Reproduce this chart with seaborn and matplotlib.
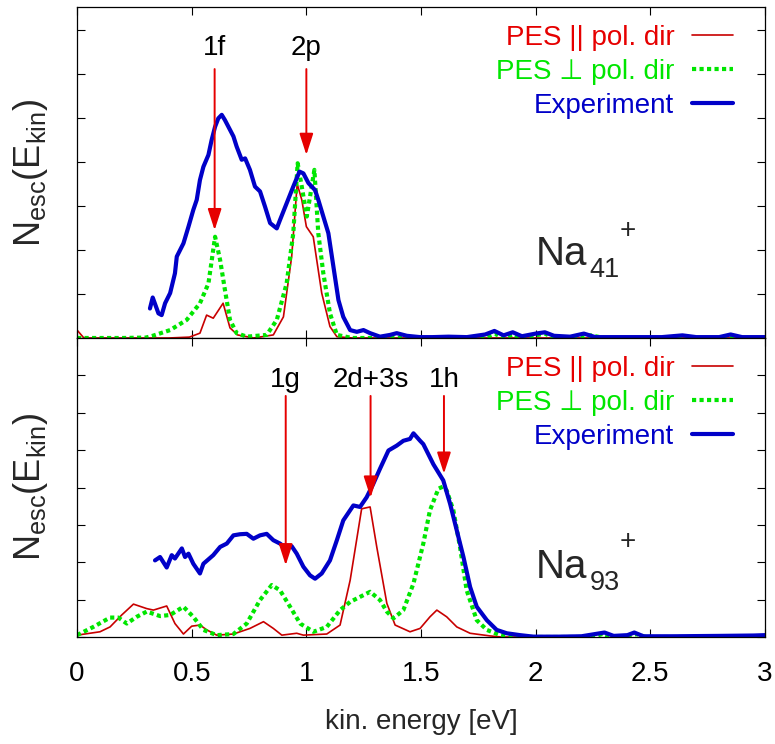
import matplotlib
matplotlib.use("Agg")
import matplotlib.pyplot as plt
import seaborn as sns

# Valores (unidades = separación de marcas del eje y)
# --- Na41+ (panel superior) ---
top_par_x = [0.0, 0.03, 0.2, 0.4, 0.49, 0.536, 0.565, 0.594, 0.637, 0.667, 0.70, 0.77, 0.856, 0.9,
             0.936, 0.96, 0.98, 1.0, 1.03, 1.067, 1.103, 1.133, 1.2, 1.5, 2.0, 2.5, 3.0]
top_par_y = [0.18, 0.0, 0.0, 0.0, 0.02, 0.11, 0.52, 0.45, 0.79, 0.23, 0.07, 0.0, 0.07, 0.48,
             1.85, 3.50, 3.14, 2.53, 2.30, 1.02, 0.26, 0.03, 0.0, 0.0, 0.0, 0.0, 0.0]

top_perp_x = [0.0, 0.2, 0.3, 0.33, 0.406, 0.478, 0.536, 0.573, 0.602, 0.624, 0.645, 0.667, 0.696,
              0.74, 0.827, 0.871, 0.914, 0.943, 0.962, 0.98, 1.002, 1.016, 1.035, 1.052, 1.074,
              1.103, 1.133, 1.2, 1.78, 1.82, 1.86, 1.9, 1.94, 2.0, 2.04, 2.08, 2.2, 2.24, 2.3, 3.0]
top_perp_y = [0.0, 0.0, 0.01, 0.05, 0.18, 0.41, 0.79, 1.24, 2.30, 1.77, 1.09, 0.41, 0.11,
              0.03, 0.07, 0.41, 1.24, 2.38, 3.97, 3.44, 2.76, 3.21, 3.82, 2.38, 1.47,
              0.56, 0.07, 0.0, 0.0, 0.1, 0.0, 0.08, 0.0, 0.06, 0.1, 0.0, 0.0, 0.06, 0.0, 0.0]

top_exp_x = [0.318, 0.330, 0.355, 0.369, 0.384, 0.406, 0.427, 0.435, 0.464, 0.486, 0.507, 0.522,
             0.536, 0.551, 0.573, 0.587, 0.602, 0.616, 0.631, 0.645, 0.667, 0.682, 0.696, 0.718,
             0.733, 0.754, 0.776, 0.798, 0.820, 0.842, 0.871, 0.885, 0.914, 0.943, 0.970, 0.987,
             1.009, 1.038, 1.052, 1.074, 1.096, 1.118, 1.140, 1.161, 1.191, 1.220, 1.249, 1.278,
             1.321, 1.365, 1.394, 1.438, 1.496, 1.55, 1.62, 1.70, 1.78, 1.82, 1.86, 1.90, 1.94,
             2.0, 2.04, 2.08, 2.15, 2.21, 2.26, 2.40, 2.55, 2.64, 2.70, 2.80, 2.85, 2.90, 3.0]
top_exp_y = [0.67, 0.92, 0.56, 0.52, 0.79, 1.02, 1.47, 1.85, 2.15, 2.53, 2.91, 3.14,
             3.59, 3.89, 4.16, 4.50, 4.80, 4.99, 5.07, 4.95, 4.73, 4.58, 4.35, 4.05,
             4.08, 3.82, 3.44, 3.33, 2.98, 2.61, 2.49, 2.68, 3.06, 3.44, 3.78, 3.74,
             3.52, 3.36, 3.14, 2.76, 2.38, 1.62, 0.86, 0.48, 0.18, 0.14, 0.18, 0.11,
             0.03, 0.07, 0.11, 0.05, 0.02, 0.02, 0.03, 0.02, 0.08, 0.16, 0.06, 0.13, 0.04,
             0.10, 0.13, 0.05, 0.03, 0.10, 0.02, 0.02, 0.02, 0.06, 0.02, 0.02, 0.08, 0.02, 0.02]

# --- Na93+ (panel inferior) ---
bot_par_x = [0.0, 0.1, 0.144, 0.195, 0.246, 0.304, 0.333, 0.391, 0.427, 0.464, 0.5, 0.536, 0.566,
             0.609, 0.682, 0.754, 0.813, 0.856, 0.893, 0.958, 0.987, 1.089, 1.147, 1.191, 1.241,
             1.278, 1.307, 1.351, 1.387, 1.452, 1.496, 1.539, 1.569, 1.612, 1.656, 1.714, 1.8,
             1.85, 2.0]
bot_par_y = [0.05, 0.14, 0.27, 0.59, 0.88, 0.76, 0.72, 0.83, 0.36, 0.08, 0.29, 0.32, 0.19,
             0.05, 0.08, 0.23, 0.41, 0.23, 0.05, 0.10, 0.05, 0.08, 0.32, 1.52, 3.43,
             3.48, 2.41, 0.90, 0.32, 0.14, 0.23, 0.54, 0.72, 0.54, 0.27, 0.10, 0.03,
             0.0, 0.0]

bot_perp_x = [0.0, 0.071, 0.144, 0.18, 0.217, 0.26, 0.304, 0.362, 0.406, 0.464, 0.507, 0.551,
              0.609, 0.682, 0.74, 0.798, 0.849, 0.885, 0.929, 0.973, 1.031, 1.089, 1.147, 1.191,
              1.278, 1.321, 1.351, 1.380, 1.423, 1.467, 1.510, 1.539, 1.576, 1.595, 1.612,
              1.641, 1.670, 1.699, 1.743, 1.787, 1.845, 1.9, 2.25, 2.29, 2.33, 2.40, 2.44,
              2.48, 3.0]
bot_perp_y = [0.05, 0.27, 0.52, 0.52, 0.36, 0.54, 0.68, 0.56, 0.59, 0.81, 0.54, 0.19,
              0.05, 0.08, 0.36, 0.99, 1.39, 1.25, 0.81, 0.36, 0.14, 0.27, 0.72, 0.94,
              1.21, 0.99, 0.68, 0.50, 0.72, 1.43, 2.50, 3.39, 3.97, 4.02, 3.92,
              3.39, 2.41, 1.25, 0.45, 0.19, 0.05, 0.0, 0.0, 0.08, 0.0, 0.0, 0.08,
              0.0, 0.0]

bot_exp_x = [0.340, 0.362, 0.391, 0.413, 0.427, 0.457, 0.471, 0.486, 0.507, 0.536, 0.551, 0.594,
             0.624, 0.653, 0.682, 0.711, 0.740, 0.769, 0.798, 0.827, 0.856, 0.885, 0.914, 0.936,
             0.958, 0.987, 1.016, 1.038, 1.067, 1.103, 1.133, 1.161, 1.205, 1.234, 1.263, 1.292,
             1.321, 1.358, 1.394, 1.423, 1.452, 1.467, 1.496, 1.510, 1.554, 1.597, 1.627, 1.656,
             1.685, 1.714, 1.743, 1.787, 1.830, 1.874, 1.932, 1.990, 2.1, 2.2, 2.26, 2.30, 2.34,
             2.40, 2.43, 2.47, 2.6, 2.8, 2.95, 3.0]
bot_exp_y = [2.05, 2.14, 1.86, 2.19, 2.10, 2.37, 2.14, 2.23, 1.96, 1.70, 1.96, 2.19,
             2.41, 2.50, 2.72, 2.75, 2.76, 2.63, 2.72, 2.76, 2.59, 2.50, 2.37, 2.43,
             2.23, 1.88, 1.65, 1.56, 1.70, 2.05, 2.59, 3.12, 3.52, 3.48, 3.74, 4.10,
             4.50, 4.99, 5.12, 5.25, 5.30, 5.45, 5.25, 5.16, 4.62, 4.19, 3.56, 2.85,
             2.14, 1.34, 0.81, 0.45, 0.19, 0.10, 0.05, 0.01, 0.01, 0.02, 0.08, 0.12, 0.03,
             0.05, 0.12, 0.02, 0.02, 0.03, 0.04, 0.05]

# Etiquetas de flechas: (texto, x, punta)
top_peaks = [("1f", 0.6, 2.45), ("2p", 1.0, 4.16)]
bot_peaks = [("1g", 0.91, 1.92), ("2d+3s", 1.28, 3.73), ("1h", 1.6, 4.37)]

labels = ["PES || pol. dir", "PES \u22a5 pol. dir", "Experiment"]
x_ticks = [0, 0.5, 1, 1.5, 2, 2.5, 3]
x_tick_labels = ["0", "0.5", "1", "1.5", "2", "2.5", "3"]

RED_LINE = "#c80000"
RED_TXT = "#e60000"
GREEN = "#00e600"
BLUE = "#0000c8"

sns.set_style("ticks")
FAM = ["Liberation Sans", "DejaVu Sans"]
plt.rcParams["font.family"] = FAM
plt.rcParams["mathtext.fontset"] = "custom"
plt.rcParams["mathtext.rm"] = "Liberation Sans"
plt.rcParams["mathtext.it"] = "Liberation Sans"

fig = plt.figure(figsize=(7.75, 7.44), dpi=100)
ax1 = fig.add_axes([0.0994, 0.5457, 0.8877, 0.4449])
ax2 = fig.add_axes([0.0994, 0.1438, 0.8877, 0.4019])


def draw_panel(ax, par_x, par_y, perp_x, perp_y, exp_x, exp_y, height_px):
    sns.lineplot(x=par_x, y=par_y, ax=ax, color=RED_LINE, lw=1.2, sort=False,
                 estimator=None, label=labels[0])
    sns.lineplot(x=perp_x, y=perp_y, ax=ax, color=GREEN, lw=3.0, sort=False,
                 estimator=None, linestyle=(0, (1.0, 0.8)), label=labels[1])
    sns.lineplot(x=exp_x, y=exp_y, ax=ax, color=BLUE, lw=3.0, sort=False,
                 estimator=None, label=labels[2])
    ax.set_xlim(0, 3)
    ax.set_xticks(x_ticks)
    ax.set_yticks(range(0, 8))
    ax.tick_params(direction="in", length=6, width=0.8, top=True, right=True,
                   labelleft=False, colors="black")
    for s in ax.spines.values():
        s.set_linewidth(0.9)
        s.set_color("black")
    ax.set_ylabel("")
    ax.set_xlabel("")
    ax.legend(loc="upper right", bbox_to_anchor=(0.953, 1 - 18 / height_px),
              markerfirst=False, frameon=False, borderpad=0, borderaxespad=0,
              handlelength=1.45, handletextpad=0.65, labelspacing=0.28,
              labelcolor=[RED_TXT, GREEN, BLUE], prop={"family": FAM, "size": 20})


def draw_peaks(ax, peaks, y_start, y_text):
    for name, x, tip in peaks:
        ax.annotate("", xy=(x, tip), xytext=(x, y_start),
                    arrowprops=dict(arrowstyle="-|>,head_length=1.3,head_width=0.42",
                                    color="#e60000", lw=1.4, shrinkA=0, shrinkB=0,
                                    mutation_scale=10))
        ax.text(x, y_text, name, ha="center", va="center", fontsize=20, color="black")


draw_panel(ax1, top_par_x, top_par_y, top_perp_x, top_perp_y, top_exp_x, top_exp_y, 331)
ax1.set_ylim(0, 7.52)
ax1.tick_params(labelbottom=False)
draw_peaks(ax1, top_peaks, 6.11, 6.58)
ax1.text(2.0, 1.66, "Na", fontsize=29, ha="left", va="baseline")
ax1.text(2.235, 1.39, "41", fontsize=19.5, ha="left", va="baseline")
ax1.text(2.40, 2.42, "+", fontsize=20, ha="center", va="center")

draw_panel(ax2, bot_par_x, bot_par_y, bot_perp_x, bot_perp_y, bot_exp_x, bot_exp_y, 299)
ax2.set_ylim(0, 8)
draw_peaks(ax2, bot_peaks, 6.45, 6.88)
ax2.text(2.0, 1.57, "Na", fontsize=29, ha="left", va="baseline")
ax2.text(2.235, 1.25, "93", fontsize=19.5, ha="left", va="baseline")
ax2.text(2.40, 2.55, "+", fontsize=20, ha="center", va="center")
ax2.set_xticklabels(x_tick_labels)
ax2.tick_params(axis="x", labelsize=20, pad=17)
ax2.set_xlabel("kin. energy [eV]", fontsize=20, labelpad=16)

ylab = r"N$_{\mathrm{esc}}$(E$_{\mathrm{kin}}$)"
fig.text(31 / 775, 1 - 173 / 744, ylab, rotation=90, ha="center", va="center",
         fontsize=26, family="Liberation Sans")
fig.text(31 / 775, 1 - 487 / 744, ylab, rotation=90, ha="center", va="center",
         fontsize=26, family="Liberation Sans")

fig.savefig("out.png", dpi=100)
plt.close()
